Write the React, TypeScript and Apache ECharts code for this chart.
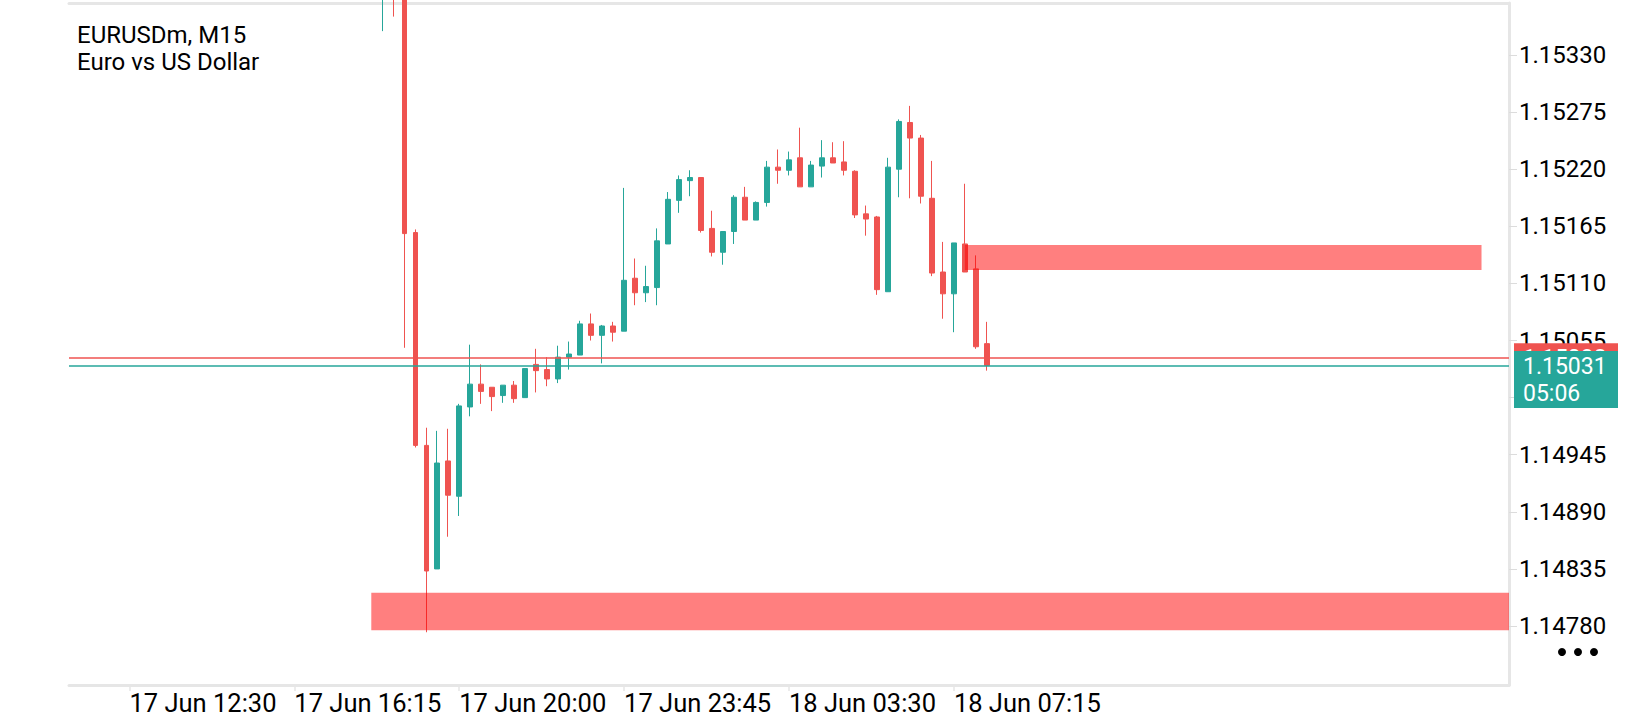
import React, { useEffect, useRef } from 'react';
import * as echarts from 'echarts';

// ---- texts ----
const SYMBOL_LINE = 'EURUSDm, M15';
const DESCRIPTION_LINE = 'Euro vs US Dollar';

// ---- time axis ----
const MONTH = 'Jun';
const FIRST_SLOT = { day: 17, hour: 11, minute: 15 }; // first slot of the visible axis
const SLOT_COUNT = 131;
const BAR_MINUTES = 15;
const TIME_TICKS = ['17 Jun 12:30', '17 Jun 16:15', '17 Jun 20:00', '17 Jun 23:45', '18 Jun 03:30', '18 Jun 07:15'];

// ---- price axis ----
const PRICE_MIN = 1.147232;
const PRICE_MAX = 1.153801;
const PRICE_TICKS = [1.1478, 1.14835, 1.1489, 1.14945, 1.15055, 1.1511, 1.15165, 1.1522, 1.15275, 1.1533];
const HIDDEN_PRICE_TICK = 1.15; // covered by the bid label

// ---- candles: [open, close, low, high], first one at FIRST_CANDLE ----
const FIRST_CANDLE = '17 Jun 18:15';
const CANDLES: number[][] = [
  [1.15385, 1.1542, 1.15353, 1.15425],
  [1.1542, 1.1539, 1.15367, 1.15428],
  [1.1539, 1.15158, 1.15048, 1.15395],
  [1.15159, 1.14954, 1.14952, 1.15162],
  [1.14954, 1.14833, 1.14774, 1.14971],
  [1.14835, 1.14937, 1.14835, 1.14968],
  [1.14939, 1.14906, 1.14866, 1.1497],
  [1.14905, 1.14992, 1.14886, 1.14994],
  [1.14991, 1.15013, 1.14982, 1.15051],
  [1.15013, 1.15006, 1.14994, 1.15032],
  [1.1501, 1.15001, 1.14987, 1.1501],
  [1.15002, 1.15012, 1.14995, 1.15012],
  [1.15012, 1.14999, 1.14995, 1.15016],
  [1.15, 1.15028, 1.15, 1.15028],
  [1.15032, 1.15026, 1.15005, 1.15047],
  [1.15027, 1.15018, 1.15011, 1.15039],
  [1.15018, 1.15039, 1.15014, 1.1505],
  [1.15039, 1.15042, 1.15027, 1.15054],
  [1.15041, 1.15071, 1.15041, 1.15074],
  [1.15071, 1.1506, 1.15055, 1.15081],
  [1.1506, 1.15069, 1.15033, 1.1507],
  [1.15069, 1.15063, 1.15054, 1.15073],
  [1.15064, 1.15113, 1.15064, 1.15202],
  [1.15115, 1.15101, 1.15089, 1.15134],
  [1.15101, 1.15107, 1.15092, 1.15127],
  [1.15106, 1.15151, 1.15089, 1.15163],
  [1.15148, 1.15191, 1.15148, 1.15198],
  [1.1519, 1.1521, 1.15178, 1.15214],
  [1.15209, 1.15212, 1.15194, 1.15219],
  [1.15212, 1.15161, 1.15159, 1.15212],
  [1.15163, 1.1514, 1.15136, 1.1518],
  [1.1514, 1.1516, 1.15128, 1.1516],
  [1.1516, 1.15193, 1.15148, 1.15195],
  [1.15193, 1.15171, 1.15171, 1.15203],
  [1.15171, 1.15188, 1.15171, 1.15189],
  [1.15188, 1.15222, 1.15184, 1.15228],
  [1.15222, 1.15219, 1.15206, 1.15239],
  [1.15219, 1.15229, 1.15214, 1.15237],
  [1.15231, 1.15203, 1.15203, 1.1526],
  [1.15203, 1.15224, 1.15203, 1.15228],
  [1.15223, 1.15231, 1.15212, 1.15248],
  [1.15231, 1.15226, 1.15226, 1.15246],
  [1.15227, 1.15219, 1.15214, 1.15247],
  [1.15218, 1.15176, 1.15173, 1.15219],
  [1.15177, 1.15172, 1.15156, 1.15185],
  [1.15174, 1.15104, 1.15099, 1.15175],
  [1.15102, 1.15222, 1.15102, 1.15231],
  [1.1522, 1.15266, 1.15193, 1.15268],
  [1.15265, 1.1525, 1.15192, 1.15281],
  [1.1525, 1.15194, 1.15187, 1.15253],
  [1.15192, 1.1512, 1.15117, 1.15228],
  [1.15121, 1.151, 1.15076, 1.1515],
  [1.151, 1.15149, 1.15063, 1.15149],
  [1.15148, 1.15121, 1.15121, 1.15206],
  [1.15124, 1.15049, 1.15047, 1.15137],
  [1.15052, 1.15031, 1.15026, 1.15073],
];

// ---- current prices ----
const ASK = 1.15038;
const BID = 1.15031;
const BAR_COUNTDOWN = '05:06';

// ---- zones ----
const ZONE_FROM = ['17 Jun 18:00', '18 Jun 07:30'];
const ZONE_TO: (string | null)[] = [null, '18 Jun 19:15'];
const ZONE_HIGH = [1.14812, 1.15147];
const ZONE_LOW = [1.14776, 1.15123];

// ---- styles ----
const UP = '#26a69a';
const DOWN = '#ef5350';
const FRAME = '#e6e6e6';
const FONT = 'Roboto';

function pad(n: number) {
  return n < 10 ? '0' + n : String(n);
}

function buildCategories(): string[] {
  const out: string[] = [];
  const start = FIRST_SLOT.hour * 60 + FIRST_SLOT.minute;
  for (let i = 0; i < SLOT_COUNT; i++) {
    const t = start + i * BAR_MINUTES;
    const day = FIRST_SLOT.day + Math.floor(t / 1440);
    const m = t % 1440;
    out.push(`${day} ${MONTH} ${pad(Math.floor(m / 60))}:${pad(m % 60)}`);
  }
  return out;
}

export default function App() {
  const ref = useRef<HTMLDivElement>(null);

  useEffect(() => {
    if (!ref.current) return;
    const chart = echarts.init(ref.current, null, { renderer: 'svg' });
    const categories = buildCategories();
    const firstIdx = categories.indexOf(FIRST_CANDLE);
    const data = categories.map((_, i) => {
      const k = i - firstIdx;
      return k >= 0 && k < CANDLES.length ? CANDLES[k] : '-';
    });
    const isTimeTick = (_i: number, value: string) => TIME_TICKS.indexOf(value) >= 0;

    const zones = ZONE_FROM.map((from, i) => {
      const end: any = { yAxis: ZONE_LOW[i] };
      if (ZONE_TO[i]) end.xAxis = ZONE_TO[i];
      return [{ xAxis: from, yAxis: ZONE_HIGH[i] }, end];
    });

    const option: any = {
      animation: false,
      backgroundColor: '#ffffff',
      title: {
        text: SYMBOL_LINE + '\n' + DESCRIPTION_LINE,
        left: 77,
        top: 21,
        padding: 0,
        textStyle: { fontFamily: FONT, fontSize: 24, fontWeight: 'normal', color: '#000', lineHeight: 27 },
      },
      grid: { left: 69, right: 131, top: 3, bottom: 35 },
      xAxis: [
        {
          type: 'category',
          data: categories,
          boundaryGap: true,
          position: 'bottom',
          axisLine: { show: true, lineStyle: { color: FRAME, width: 3 } },
          axisTick: { show: true, alignWithLabel: true, interval: isTimeTick, length: 6, lineStyle: { color: FRAME, width: 1.5 } },
          axisLabel: { interval: isTimeTick, align: 'left', margin: 5, color: '#000', fontFamily: FONT, fontSize: 25.5 },
          splitLine: { show: false },
        },
        {
          type: 'category',
          data: categories,
          position: 'top',
          axisLine: { show: true, lineStyle: { color: FRAME, width: 3 } },
          axisTick: { show: false },
          axisLabel: { show: false },
          splitLine: { show: false },
        },
      ],
      yAxis: {
        type: 'value',
        position: 'right',
        min: PRICE_MIN,
        max: PRICE_MAX,
        axisLine: { show: true, lineStyle: { color: FRAME, width: 3 } },
        axisTick: { show: true, customValues: [...PRICE_TICKS, HIDDEN_PRICE_TICK], length: 8, lineStyle: { color: '#dcdcdc', width: 1 } },
        axisLabel: {
          customValues: PRICE_TICKS,
          formatter: (v: number) => v.toFixed(5),
          margin: 10,
          color: '#000',
          fontFamily: FONT,
          fontSize: 24,
        },
        splitLine: { show: false },
      },
      series: [
        {
          type: 'candlestick',
          xAxisIndex: 0,
          yAxisIndex: 0,
          data,
          barWidth: 5,
          clip: true,
          itemStyle: { color: UP, color0: DOWN, borderColor: UP, borderColor0: DOWN, borderWidth: 1 },
          emphasis: { disabled: true },
          markArea: {
            silent: true,
            z: 3,
            itemStyle: { color: 'rgba(255, 0, 0, 0.5)', borderWidth: 0 },
            data: zones,
          },
          markLine: {
            silent: true,
            precision: 5,
            symbol: ['none', 'none'],
            label: { show: false },
            data: [
              { yAxis: ASK, lineStyle: { color: DOWN, width: 1.5, type: 'solid' } },
              { yAxis: BID, lineStyle: { color: UP, width: 1.5, type: 'solid' } },
            ],
          },
        },
      ],
    };
    chart.setOption(option);

    const yAsk = chart.convertToPixel({ yAxisIndex: 0 }, ASK) as number;
    const yBid = chart.convertToPixel({ yAxisIndex: 0 }, BID) as number;
    const boxX = 1514;
    const boxW = 104;
    chart.setOption({
      graphic: [
        { type: 'rect', z: 100, shape: { x: boxX, y: yAsk - 15, width: boxW, height: 30 }, style: { fill: DOWN } },
        { type: 'text', z: 101, x: 1523, y: yAsk, style: { text: ASK.toFixed(5), fill: '#fff', fontFamily: FONT, fontSize: 23, verticalAlign: 'middle' } },
        { type: 'rect', z: 102, shape: { x: boxX, y: yBid - 14.5, width: boxW, height: 57 }, style: { fill: UP } },
        { type: 'text', z: 103, x: 1523, y: yBid + 1, style: { text: BID.toFixed(5), fill: '#fff', fontFamily: FONT, fontSize: 23, verticalAlign: 'middle' } },
        { type: 'text', z: 103, x: 1523, y: yBid + 28, style: { text: BAR_COUNTDOWN, fill: '#fff', fontFamily: FONT, fontSize: 23, verticalAlign: 'middle' } },
        { type: 'circle', z: 100, shape: { cx: 1562, cy: 652, r: 4 }, style: { fill: '#000' } },
        { type: 'circle', z: 100, shape: { cx: 1578, cy: 652, r: 4 }, style: { fill: '#000' } },
        { type: 'circle', z: 100, shape: { cx: 1594, cy: 652, r: 4 }, style: { fill: '#000' } },
      ],
    });

    return () => chart.dispose();
  }, []);

  return <div ref={ref} style={{ position: 'fixed', left: 0, top: 0, width: 1640, height: 720 }} />;
}
